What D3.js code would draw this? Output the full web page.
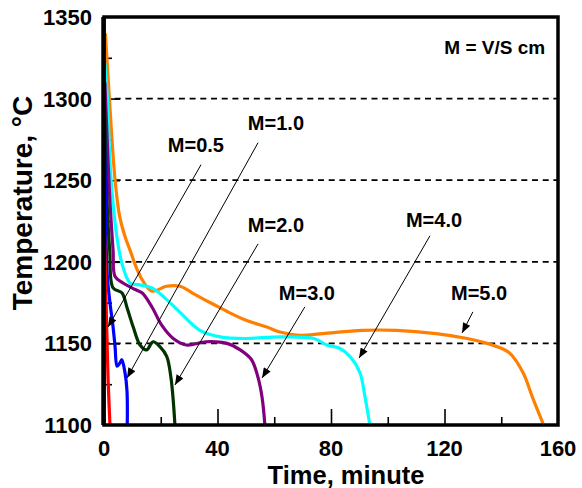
<!DOCTYPE html>
<html>
<head>
<meta charset="utf-8">
<script src="https://cdn.jsdelivr.net/npm/d3@7"></script>
<style>
  body { margin: 0; background: #fff; }
  text { font-family: "Liberation Sans", Arial, sans-serif; font-weight: bold; }
</style>
</head>
<body>
<svg id="chart" width="582" height="488"></svg>
<script>
// readings taken off the plot: [time in minutes, temperature in °C]
const m05 = [[0, 1232], [0.4, 1200], [0.8, 1170], [1.1, 1150], [1.4, 1130], [1.8, 1112], [2.1, 1100]];
const m10 = [[0, 1305], [0.5, 1240], [1.1, 1193], [2.1, 1175], [3.2, 1160], [3.9, 1148], [4.6, 1136],
             [5.6, 1138], [6.3, 1140], [7.4, 1132], [8.1, 1121], [8.2, 1100]];
const m20 = [[0.2, 1295], [1, 1240], [2, 1207], [3.2, 1184], [6.3, 1181], [8.1, 1172], [10.3, 1160],
             [12.7, 1149], [15, 1146], [17.3, 1151], [19.7, 1148], [22.1, 1142], [23.6, 1129],
             [24.4, 1115], [25, 1100]];
const m30 = [[0.3, 1310], [1, 1280], [2, 1240], [3.2, 1207], [3.9, 1191], [6.7, 1187], [11, 1183],
             [13.4, 1181], [17, 1172], [20.4, 1161], [24.4, 1153], [29, 1149], [36, 1151],
             [43.3, 1150], [48, 1146], [52, 1140], [54.3, 1129], [55.7, 1117], [56.7, 1100]];
const m40 = [[0.3, 1322], [1.2, 1300], [2.5, 1250], [5, 1210], [7, 1195], [9.2, 1187], [12, 1186],
             [16.9, 1184], [22, 1177], [26.8, 1169], [33.8, 1158], [40.9, 1154], [50, 1153],
             [62, 1154], [74, 1153], [78.5, 1149], [83, 1147], [86.7, 1142], [90.2, 1132],
             [92, 1117], [93.7, 1100]];
const m50 = [[0.5, 1340], [1.9, 1300], [3.9, 1250], [5.5, 1228], [7.5, 1215], [9.2, 1207], [11.5, 1196],
             [13.8, 1188], [16.9, 1182], [22, 1185], [26.8, 1185], [32, 1180], [38.5, 1174],
             [44, 1169], [50.3, 1164], [57.4, 1160], [62, 1157], [69, 1155], [77, 1156], [91, 1158],
             [103, 1158], [117, 1156], [128, 1153], [135, 1150], [140, 1147], [143, 1144],
             [147.7, 1132], [151, 1117], [154.7, 1101]];

const seriesNames = ["M=5.0", "M=4.0", "M=3.0", "M=2.0", "M=1.0", "M=0.5"];
const seriesData = [m50, m40, m30, m20, m10, m05];
const seriesColors = ["#ff7f00", "#00ffff", "#800080", "#003300", "#0000ff", "#ff0000"];

const xTicks = [0, 40, 80, 120, 160];
const xMinorTicks = [20, 60, 100, 140];
const yTicks = [1100, 1150, 1200, 1250, 1300, 1350];
const yMinorTicks = [1125, 1175, 1225, 1275, 1325];
const gridLevels = [1150, 1200, 1250, 1300];

// label anchor, line start, arrow tip (data units)
const labelAt = [[132.2, 1176.7], [116.3, 1221.5], [71.5, 1176.7], [60.6, 1218.4], [60.6, 1281], [32.4, 1267.5]];
const arrowFrom = [[130, 1169.3], [114.9, 1216], [70.8, 1172.4], [54.3, 1211], [54.3, 1273], [34.2, 1259.5]];
const arrowTo = [[126.2, 1156.4], [89.9, 1141], [55.7, 1128.8], [25, 1124.5], [8.1, 1128.8], [1.4, 1160]];

const svg = d3.select("#chart");
const margin = { left: 104, right: 24, top: 17, bottom: 63 };
const width = 582, height = 488;

const x = d3.scaleLinear().domain([0, 160]).range([margin.left, width - margin.right]);
const y = d3.scaleLinear().domain([1100, 1350]).range([height - margin.bottom, margin.top]);

svg.append("defs").append("clipPath").attr("id", "plot-clip")
  .append("rect")
  .attr("x", x(0)).attr("y", y(1350))
  .attr("width", x(160) - x(0)).attr("height", y(1100) - y(1350));

svg.append("defs").append("marker")
  .attr("id", "arrow")
  .attr("markerUnits", "userSpaceOnUse")
  .attr("viewBox", "0 0 10 8")
  .attr("refX", 10).attr("refY", 4)
  .attr("markerWidth", 11).attr("markerHeight", 8)
  .attr("orient", "auto")
  .append("path")
  .attr("d", "M0,0 L10,4 L0,8 Z")
  .attr("fill", "#000");

// dashed reference lines
svg.append("g").selectAll("line")
  .data(gridLevels)
  .join("line")
  .attr("x1", x(0)).attr("x2", x(160))
  .attr("y1", d => y(d)).attr("y2", d => y(d))
  .attr("stroke", "#000")
  .attr("stroke-width", 1.8)
  .attr("stroke-dasharray", "6,4.7");

// inner ticks
const bottomAxis = d3.axisBottom(x).tickValues(xTicks.slice(1, -1)).tickSizeInner(-16).tickSizeOuter(0).tickFormat("");
svg.append("g").attr("transform", `translate(0,${y(1100)})`).call(bottomAxis)
  .call(g => g.select(".domain").remove())
  .selectAll("line").attr("stroke-width", 1.6);
const bottomMinor = d3.axisBottom(x).tickValues(xMinorTicks).tickSizeInner(-8).tickSizeOuter(0).tickFormat("");
svg.append("g").attr("transform", `translate(0,${y(1100)})`).call(bottomMinor)
  .call(g => g.select(".domain").remove())
  .selectAll("line").attr("stroke-width", 1.6);
const leftAxis = d3.axisLeft(y).tickValues(gridLevels).tickSizeInner(-16).tickSizeOuter(0).tickFormat("");
svg.append("g").attr("transform", `translate(${x(0)},0)`).call(leftAxis)
  .call(g => g.select(".domain").remove())
  .selectAll("line").attr("stroke-width", 1.6);
const leftMinor = d3.axisLeft(y).tickValues(yMinorTicks).tickSizeInner(-8).tickSizeOuter(0).tickFormat("");
svg.append("g").attr("transform", `translate(${x(0)},0)`).call(leftMinor)
  .call(g => g.select(".domain").remove())
  .selectAll("line").attr("stroke-width", 1.6);

// curves
const curveLine = d3.line().x(d => x(d[0])).y(d => y(d[1])).curve(d3.curveCatmullRom.alpha(0.5));
svg.append("g").attr("clip-path", "url(#plot-clip)")
  .selectAll("path")
  .data(seriesData)
  .join("path")
  .attr("d", d => curveLine(d))
  .attr("fill", "none")
  .attr("stroke", (d, i) => seriesColors[i])
  .attr("stroke-width", 3.2)
  .attr("stroke-linejoin", "round");

// frame
svg.append("rect")
  .attr("x", x(0)).attr("y", y(1350))
  .attr("width", x(160) - x(0)).attr("height", y(1100) - y(1350))
  .attr("fill", "none")
  .attr("stroke", "#000")
  .attr("stroke-width", 3.5);
svg.append("line")
  .attr("x1", x(0) - 0.5).attr("x2", x(0) - 0.5)
  .attr("y1", y(1350)).attr("y2", y(1100))
  .attr("stroke", "#000")
  .attr("stroke-width", 4.5);

// tick labels
svg.append("g").selectAll("text")
  .data(xTicks)
  .join("text")
  .attr("x", d => x(d))
  .attr("y", y(1100) + 31)
  .attr("text-anchor", "middle")
  .attr("font-size", "22px")
  .text(d => d);
svg.append("g").selectAll("text")
  .data(yTicks)
  .join("text")
  .attr("x", x(0) - 12)
  .attr("y", d => y(d))
  .attr("dy", "0.36em")
  .attr("text-anchor", "end")
  .attr("font-size", "22px")
  .text(d => d);

// axis titles
svg.append("text")
  .attr("x", (x(0) + x(160)) / 2 + 15)
  .attr("y", 484)
  .attr("text-anchor", "middle")
  .attr("font-size", "25.5px")
  .text("Time, minute");
svg.append("text")
  .attr("transform", "translate(32,203) rotate(-90)")
  .attr("text-anchor", "middle")
  .attr("font-size", "28px")
  .text("Temperature, °C");

// annotations
svg.append("g").selectAll("line")
  .data(arrowFrom)
  .join("line")
  .attr("x1", d => x(d[0])).attr("y1", d => y(d[1]))
  .attr("x2", (d, i) => x(arrowTo[i][0])).attr("y2", (d, i) => y(arrowTo[i][1]))
  .attr("stroke", "#000")
  .attr("stroke-width", 1)
  .attr("marker-end", "url(#arrow)");
svg.append("g").selectAll("text")
  .data(labelAt)
  .join("text")
  .attr("x", d => x(d[0]))
  .attr("y", d => y(d[1]))
  .attr("text-anchor", "middle")
  .attr("font-size", "20px")
  .text((d, i) => seriesNames[i]);

svg.append("text")
  .attr("x", x(155.5))
  .attr("y", y(1327.5))
  .attr("text-anchor", "end")
  .attr("font-size", "19px")
  .text("M = V/S cm");
</script>
</body>
</html>
